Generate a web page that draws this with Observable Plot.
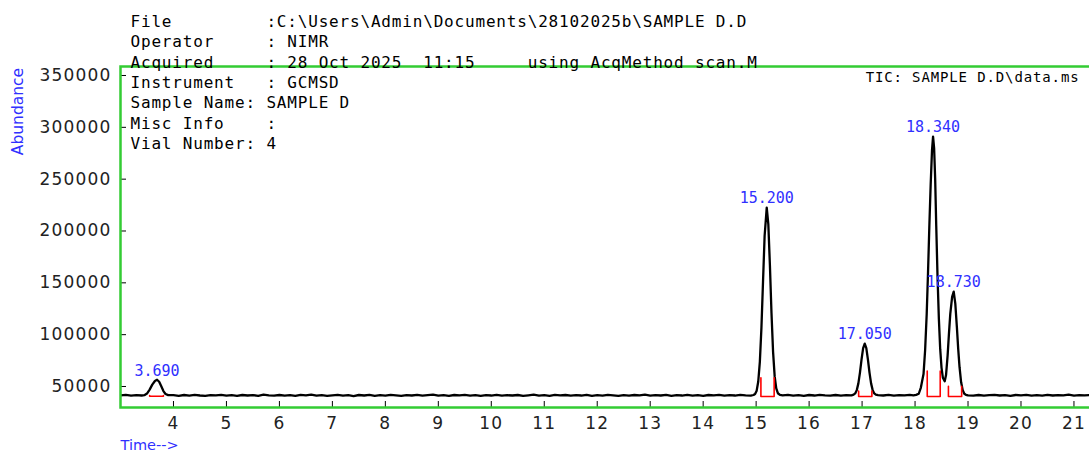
<!DOCTYPE html>
<html><head><meta charset="utf-8">
<script src="https://cdn.jsdelivr.net/npm/d3@7"></script>
<script src="https://cdn.jsdelivr.net/npm/@observablehq/plot@0.6"></script>
<style>html,body{margin:0;padding:0;overflow:hidden;background:#fff;} #chart{width:1089px;height:453px;overflow:hidden;} #chart svg{max-width:none !important;}</style>
</head><body><div id="chart"></div>
<script>
// ---- data ----
const scanTime = [
 3.0,3.1,3.2,3.3,3.4,
 3.45,3.5,3.55,3.6,3.65,3.69,3.73,3.77,3.81,3.85,3.9,
 4.0,4.1,4.2,4.3,4.4,4.5,4.6,4.7,4.8,4.9,
 5.0,5.1,5.2,5.3,5.4,5.5,5.6,5.7,5.8,5.9,
 6.0,6.1,6.2,6.3,6.4,6.5,6.6,6.7,6.8,6.9,
 7.0,7.1,7.2,7.3,7.4,7.5,7.6,7.7,7.8,7.9,
 8.0,8.1,8.2,8.3,8.4,8.5,8.6,8.7,8.8,8.9,
 9.0,9.1,9.2,9.3,9.4,9.5,9.6,9.7,9.8,9.9,
 10.0,10.1,10.2,10.3,10.4,10.5,10.6,10.7,10.8,10.9,
 11.0,11.1,11.2,11.3,11.4,11.5,11.6,11.7,11.8,11.9,
 12.0,12.1,12.2,12.3,12.4,12.5,12.6,12.7,12.8,12.9,
 13.0,13.1,13.2,13.3,13.4,13.5,13.6,13.7,13.8,13.9,
 14.0,14.1,14.2,14.3,14.4,14.5,14.6,14.7,14.8,14.9,
 14.95,14.98,15.01,15.04,15.07,15.1,15.13,15.16,15.2,15.23,15.26,15.29,15.32,15.35,15.38,15.41,15.45,
 15.5,15.6,15.7,15.8,15.9,16.0,16.1,16.2,16.3,16.4,16.5,16.6,16.7,16.8,
 16.84,16.87,16.9,16.93,16.96,16.99,17.02,17.05,17.08,17.11,17.14,17.17,17.2,17.23,17.26,17.3,
 17.4,17.5,17.6,17.7,17.8,17.9,17.97,
 18.02,18.07,18.11,18.16,18.19,18.22,18.245,18.27,18.295,18.32,18.34,18.36,18.38,18.40,18.425,18.45,18.475,18.50,18.525,18.56,
 18.585,18.615,18.64,18.665,18.70,18.73,18.76,18.79,18.815,18.84,18.87,18.90,18.93,18.96,19.0,
 19.1,19.2,19.3,19.4,19.5,19.6,19.7,19.8,19.9,20.0,20.1,20.2,20.3,20.4,20.5,20.6,20.7,20.8,20.9,21.0,21.1,21.2,21.3,21.4
];
const scanAbundance = [
 41400,41900,41100,41700,41300,
 41600,43200,47000,51800,55300,56500,54600,50200,45600,42800,41700,
 41600,41000,41800,41200,41900,41300,40900,41700,41400,42000,
 41100,41600,40900,41800,41300,41700,41000,42100,41400,41100,
 41800,41200,41600,40900,41900,41400,42200,41200,41700,41000,
 41500,41900,41100,41600,40800,41800,41300,41900,41000,41600,
 41200,42000,41400,40900,41700,41300,41900,41100,41600,42200,
 41200,41700,41000,41800,41400,41900,41200,41600,40900,41700,
 41300,42000,41100,41600,41300,41800,40900,41500,42100,41200,
 41700,41000,41900,41400,41800,41100,41600,41300,42000,41000,
 41600,41200,41900,41500,40900,41700,41200,41800,41400,42100,
 41100,41700,41300,41900,41000,41600,41300,42000,41200,41700,
 41000,41800,41400,41900,41100,41600,41300,42000,41500,41200,
 41800,42800,46000,54800,73800,106800,151300,195200,222500,206600,166900,120700,83200,59700,48100,43500,41900,
 41500,41900,41200,41700,41000,41800,41300,42000,41400,41100,41800,41200,41700,41400,
 42100,43300,46500,53000,63400,76200,87100,91300,87100,76200,63400,53000,46500,43300,42100,41600,
 41300,41900,41100,41700,41400,42000,41500,
 41900,43000,49000,62000,85000,120000,160000,205000,245000,277700,291000,280000,250000,205000,155000,115000,86000,68000,58500,55000,
 61000,80000,101000,120000,136500,141500,130000,107000,86000,68600,54000,46500,43000,42000,41400,
 41200,41800,41100,41600,41900,41300,41700,41000,41800,41400,42000,41200,41600,41100,41900,41300,41700,41500,42100,41200,41600,41400,41800,41300
];
const peakLabels = ["3.690", "15.200", "17.050", "18.340", "18.730"];
const peakTimes = [3.69, 15.2, 17.05, 18.34, 18.73];
const peakApex = [56500, 222500, 91300, 291000, 141500];
// integration markers (start / end of each integrated peak, tick top and baseline)
const intStart = [3.55, 15.09, 16.935, 18.23, 18.63];
const intEnd = [3.81, 15.34, 17.185, 18.475, 18.88];
const intTop = [41200, 58400, 45500, 64800, 50300];
const intBase = [40600, 40350, 40350, 40350, 40350];
const xTicks = [4,5,6,7,8,9,10,11,12,13,14,15,16,17,18,19,20,21];
const yTicks = [50000,100000,150000,200000,250000,300000,350000];
const headerLines = [
 "File         :C:\\Users\\Admin\\Documents\\28102025b\\SAMPLE D.D",
 "Operator     : NIMR",
 "Acquired     : 28 Oct 2025  11:15     using AcqMethod scan.M",
 "Instrument   : GCMSD",
 "Sample Name: SAMPLE D",
 "Misc Info    :",
 "Vial Number: 4"
];
const traceTitle = "TIC: SAMPLE D.D\\data.ms";
const yAxisLabel = "Abundance";
const xAxisLabel = "Time-->";

// ---- build tables ----
const trace = scanTime.map((t, i) => ({t, a: scanAbundance[i]}));
const peaks = peakTimes.map((t, i) => ({t, a: peakApex[i], label: peakLabels[i]}));
const integ = intStart.flatMap((s, i) => [
  {k: i, t: s, a: intTop[i]}, {k: i, t: s, a: intBase[i]},
  {k: i, t: intEnd[i], a: intBase[i]}, {k: i, t: intEnd[i], a: intTop[i]}
]);
const nb = s => s.replace(/ /g, "\u00a0");
const blue = "#3030ff";

const plot = Plot.plot({
  width: 1095, height: 453,
  marginLeft: 120, marginRight: 3, marginTop: 66, marginBottom: 46,
  x: {domain: [3.0, 21.35]},
  y: {domain: [29740, 358680]},
  style: {fontFamily: "DejaVu Sans", background: "#fff", overflow: "visible", maxWidth: "none"},
  marks: [
    Plot.line(trace, {x: "t", y: "a", stroke: "#000", strokeWidth: 2.3, clip: true}),
    Plot.line(integ, {x: "t", y: "a", z: "k", stroke: "#ff0000", strokeWidth: 1.6}),
    Plot.axisY(yTicks, {tickSize: -6, tickFormat: () => "", label: null, color: "#000"}),
    Plot.axisY(yTicks, {tickSize: 0, tickPadding: 9, tickFormat: d => String(d), label: null, fontSize: 17, color: "#222"}),
    Plot.axisX(xTicks, {tickSize: -6, tickFormat: () => "", label: null, color: "#000"}),
    Plot.axisX(xTicks, {tickSize: 0, tickPadding: 9, tickFormat: d => String(d), label: null, fontSize: 17, color: "#222"}),
    Plot.frame({stroke: "#33cc33", strokeWidth: 2.5}),
    Plot.text(peaks, {x: "t", y: "a", text: "label", dy: -9, fill: blue, fontFamily: "DejaVu Sans Mono", fontSize: 15}),
    Plot.text([headerLines.map(nb).join("\n")], {text: d => d, frameAnchor: "top-left", textAnchor: "start", lineAnchor: "middle", lineHeight: 1.27, dx: 10, dy: 15, fontFamily: "DejaVu Sans Mono", fontSize: 16, fill: "#000"}),
    Plot.text([traceTitle], {text: d => d, frameAnchor: "top-right", textAnchor: "end", lineAnchor: "middle", dx: -13, dy: 11, fontFamily: "DejaVu Sans Mono", fontSize: 14, fill: "#000"}),
    Plot.text([yAxisLabel], {text: d => d, frameAnchor: "top-left", textAnchor: "middle", lineAnchor: "middle", rotate: -90, dx: -102, dy: 45, fill: blue, fontSize: 15.5}),
    Plot.text([xAxisLabel], {text: d => d, frameAnchor: "bottom-left", textAnchor: "start", lineAnchor: "middle", dy: 37.5, fill: blue, fontSize: 14.5})
  ]
});
document.getElementById("chart").appendChild(plot);
const s = d3.select(plot);
s.style("max-width", "none");
s.selectAll("g[font-size='16'] text").attr("letter-spacing", "0.82");
s.selectAll("g[font-size='14'] text").attr("letter-spacing", "0.87");
s.selectAll("g[aria-label$='tick label'] text").attr("letter-spacing", "1.2");
</script>
</body></html>
